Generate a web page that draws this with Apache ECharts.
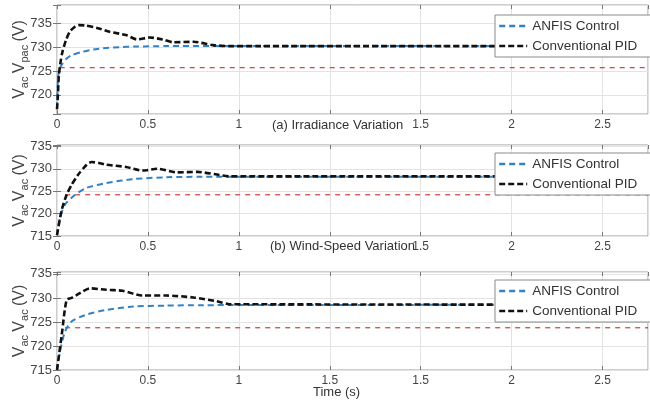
<!DOCTYPE html>
<html>
<head>
<meta charset="utf-8">
<script src="https://cdn.jsdelivr.net/npm/echarts@6/dist/echarts.min.js"></script>
<style>
    html, body { margin: 0; padding: 0; background: #fff; }
    #chart { width: 650px; height: 400px; }
</style>
</head>
<body>
<div id="chart"></div>
<script>
// x tick labels as printed on the original figure
const xLabelsTop = ['0', '0.5', '1', '', '1.5', '2', '2.5'];
const xLabelsBottom = ['0', '0.5', '1', '1.5', '1.5', '2', '2.5'];
const legendNames = ['ANFIS Control', 'Conventional PID'];
const captions = ['(a) Irradiance Variation', '(b) Wind-Speed Variation', 'Time (s)'];

// (a) irradiance
const pidATime = [0, 0.005, 0.01, 0.02, 0.03, 0.05, 0.07, 0.1, 0.12, 0.16, 0.22, 0.29, 0.38, 0.44, 0.51, 0.58, 0.64, 0.75, 0.86, 0.95, 1.1, 3.25];
const pidAVolt = [717, 720, 724, 727, 729, 731.5, 733.2, 734.3, 734.6, 734.5, 734, 733.2, 732.5, 731.6, 732, 731.6, 731, 731.1, 730.4, 730.2, 730.2, 730.2];
const anfisATime = [0, 0.003, 0.007, 0.015, 0.03, 0.053, 0.08, 0.14, 0.2, 0.27, 0.35, 0.42, 0.6, 3.25];
const anfisAVolt = [717.3, 721, 724, 725.5, 726.5, 727.6, 728.3, 729, 729.5, 729.8, 730, 730.1, 730.2, 730.2];
const refATime = [0.015, 3.25];
const refAVolt = [725.7, 725.7];

// (b) wind speed
const pidBTime = [0, 0.026, 0.053, 0.08, 0.117, 0.163, 0.19, 0.23, 0.27, 0.38, 0.47, 0.55, 0.66, 0.77, 0.88, 0.95, 3.25];
const pidBVolt = [715.2, 720.8, 724.2, 726.4, 728.7, 730.9, 731.5, 731.3, 730.9, 730.4, 729.6, 730, 729.2, 729.3, 728.7, 728.3, 728.3];
const anfisBTime = [0, 0.016, 0.044, 0.1, 0.16, 0.27, 0.42, 0.6, 0.8, 3.25];
const anfisBVolt = [715.2, 719, 722, 724.2, 725.7, 726.8, 727.7, 728.1, 728.2, 728.2];
const refBTime = [0.045, 3.25];
const refBVolt = [724.2, 724.2];

// (c) combined
const pidCTime = [0, 0.026, 0.053, 0.08, 0.126, 0.18, 0.27, 0.36, 0.47, 0.6, 0.75, 0.88, 0.95, 3.25];
const pidCVolt = [715, 722.3, 729.6, 730, 731, 732, 731.7, 731.5, 730.5, 730.5, 730.1, 729.3, 728.7, 728.6];
const anfisCTime = [0, 0.016, 0.044, 0.08, 0.16, 0.27, 0.42, 0.6, 0.8, 3.25];
const anfisCVolt = [715, 718.8, 723, 725.1, 726.5, 727.5, 728.2, 728.4, 728.5, 728.6];
const refCTime = [0.045, 3.25];
const refCVolt = [723.8, 723.8];

const zip = (t, v) => t.map((x, i) => [x, v[i]]);

const panels = [
    { grid: { top: 5, height: 109 }, yMin: 716, yMax: 738.8, xLabels: xLabelsTop, yName: '{v|V}{s|ac} {v|V}{s|pac} {v|(V)}',
      pid: zip(pidATime, pidAVolt), anfis: zip(anfisATime, anfisAVolt), ref: zip(refATime, refAVolt), legendTop: 15 },
    { grid: { top: 145, height: 91 }, yMin: 715, yMax: 735.3, xLabels: xLabelsTop, yName: '{v|V}{s|ac} {v|V}{s|ac} {v|(V)}',
      pid: zip(pidBTime, pidBVolt), anfis: zip(anfisBTime, anfisBVolt), ref: zip(refBTime, refBVolt), legendTop: 153 },
    { grid: { top: 272, height: 98 }, yMin: 715, yMax: 735.4, xLabels: xLabelsBottom, yName: '{v|V}{s|ac} {v|V}{s|ac} {v|(V)}',
      pid: zip(pidCTime, pidCVolt), anfis: zip(anfisCTime, anfisCVolt), ref: zip(refCTime, refCVolt), legendTop: 280 }
];

const font = 'Liberation Sans, Arial, sans-serif';
const grid = [], xAxis = [], yAxis = [], series = [], legend = [];

panels.forEach((p, i) => {
    grid.push({ left: 57, width: 591, top: p.grid.top, height: p.grid.height, outerBoundsMode: 'none', containLabel: false,
        show: true, borderColor: '#9a9a9a', borderWidth: 1, backgroundColor: '#fff' });

    xAxis.push({
        type: 'value', gridIndex: i, min: 0, max: 3.25, interval: 0.5,
        axisLine: { show: false },
        axisTick: { inside: true, length: 4, lineStyle: { color: '#777' } },
        splitLine: { lineStyle: { color: '#e3e3e3' } },
        axisLabel: {
            margin: 5, color: '#444', fontSize: 12, fontFamily: font, showMaxLabel: false,
            formatter: v => { const k = Math.round(v / 0.5); return Math.abs(k * 0.5 - v) < 1e-6 && p.xLabels[k] !== undefined ? p.xLabels[k] : ''; }
        }
    });
    yAxis.push({
        type: 'value', gridIndex: i, min: p.yMin, max: p.yMax,
        axisLine: { show: false },
        axisTick: { inside: true, length: 4, lineStyle: { color: '#777' } },
        splitLine: { lineStyle: { color: '#e3e3e3' } },
        axisLabel: { margin: 5, color: '#444', fontSize: 13, fontFamily: font, formatter: v => v % 5 === 0 ? String(v) : '' },
        name: p.yName, nameLocation: 'middle', nameRotate: 90, nameGap: 27, nameMoveOverlap: false,
        nameTextStyle: {
            color: '#444', fontFamily: font,
            rich: {
                v: { fontSize: 16, fontFamily: font, color: '#444' },
                s: { fontSize: 11, fontFamily: font, color: '#444', verticalAlign: 'bottom', padding: [9, 0, 0, 0] }
            }
        }
    });

    series.push(
        { name: legendNames[0], type: 'line', xAxisIndex: i, yAxisIndex: i, data: p.anfis, symbol: 'none', smooth: 0.25,
          color: '#3282c4', lineStyle: { width: 2, type: [6, 4], color: '#3282c4' }, z: 3 },
        { name: legendNames[1], type: 'line', xAxisIndex: i, yAxisIndex: i, data: p.pid, symbol: 'none', smooth: 0.25,
          color: '#111', lineStyle: { width: 2.6, type: [6, 3], color: '#111' }, z: 4 },
        { name: 'ref', type: 'line', xAxisIndex: i, yAxisIndex: i, data: p.ref, symbol: 'none',
          lineStyle: { width: 1.3, type: [5, 5], color: '#d24b4b' }, z: 2 }
    );

    legend.push({
        data: legendNames, orient: 'vertical', left: 495, top: p.legendTop, z: 20,
        itemWidth: 28, itemHeight: 10, itemGap: 6, padding: [4, 14, 4, 3],
        backgroundColor: '#fff', borderColor: '#8a8a8a', borderWidth: 1,
        selectedMode: false,
        itemStyle: { opacity: 0 },
        lineStyle: { opacity: 1, width: 2.4 },
        textStyle: { fontSize: 13.5, color: '#333', fontFamily: font }
    });
});

// extra axes that only carry the inner ticks on the top and right edges
panels.forEach((p, i) => {
    xAxis.push({ type: 'value', gridIndex: i, position: 'top', min: 0, max: 3.25, interval: 0.5,
        axisLine: { show: false }, axisLabel: { show: false }, splitLine: { show: false },
        axisTick: { inside: true, length: 4, lineStyle: { color: '#777' } } });
    yAxis.push({ type: 'value', gridIndex: i, position: 'right', min: p.yMin, max: p.yMax,
        axisLine: { show: false }, axisLabel: { show: false }, splitLine: { show: false },
        axisTick: { inside: true, length: 4, lineStyle: { color: '#777' } } });
});

const title = [
    { text: captions[0], left: 272, top: 119 },
    { text: captions[1], left: 270, top: 240 },
    { text: captions[2], left: 313, top: 386 }
].map(o => ({ ...o, padding: 0, textStyle: { fontSize: 13, fontWeight: 'normal', color: '#333', fontFamily: font } }));

echarts.init(document.getElementById('chart')).setOption({
    animation: false,
    backgroundColor: '#fff',
    title: title,
    grid: grid,
    xAxis: xAxis,
    yAxis: yAxis,
    legend: legend,
    series: series
});
</script>
</body>
</html>
